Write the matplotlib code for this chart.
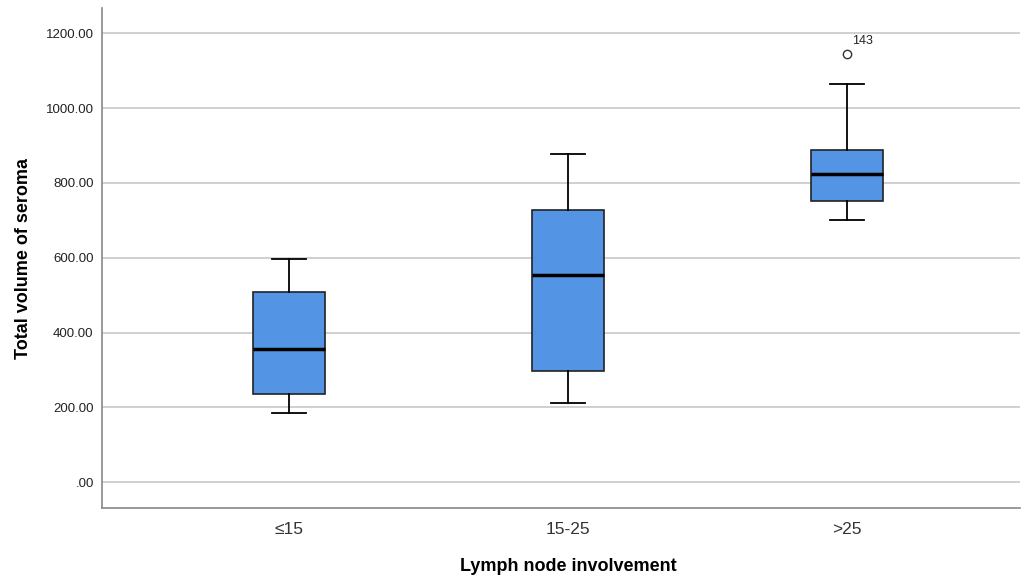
import matplotlib.pyplot as plt

# groups and box statistics
groups = ['≤15', '15-25', '>25']
whislo = [184, 211, 701]
q1 = [237, 296, 752]
med = [355, 555, 824]
q3 = [509, 728, 888]
whishi = [597, 877, 1064]
fliers = [[], [], [1144]]
flier_ids = [[], [], ['143']]

plt.rcParams['font.family'] = ['Liberation Sans', 'DejaVu Sans']

fig = plt.figure(figsize=(10.24, 5.78), dpi=100)
ax = fig.add_axes([0.0996, 0.121, 0.8964, 0.865])

stats = []
for i in range(len(groups)):
    stats.append({'whislo': whislo[i], 'q1': q1[i], 'med': med[i], 'q3': q3[i],
                  'whishi': whishi[i], 'fliers': fliers[i], 'label': groups[i]})

ax.bxp(stats, positions=[1, 2, 3], widths=0.257, patch_artist=True, showfliers=True,
       boxprops=dict(facecolor='#5394E4', edgecolor='#222222', linewidth=1.2),
       medianprops=dict(color='black', linewidth=2.5),
       whiskerprops=dict(color='black', linewidth=1.3),
       capprops=dict(color='black', linewidth=1.3),
       capwidths=0.123,
       flierprops=dict(marker='o', markerfacecolor='white', markeredgecolor='#333333',
                       markersize=6, markeredgewidth=1))

for i in range(len(groups)):
    for v, lab in zip(fliers[i], flier_ids[i]):
        ax.annotate(lab, (i + 1, v), xytext=(4, 7), textcoords='offset points',
                    fontsize=9, color='#222222')

ax.set_xlim(0.33, 3.62)
ax.set_ylim(-69, 1267)
ax.set_yticks([0, 200, 400, 600, 800, 1000, 1200])
ax.set_yticklabels(['.00', '200.00', '400.00', '600.00', '800.00', '1000.00', '1200.00'],
                   fontsize=9.5, color='#222222')
ax.set_xticks([1, 2, 3])
ax.set_xticklabels(groups, fontsize=12.5, color='#333333')
ax.tick_params(axis='x', length=0, pad=10)
ax.tick_params(axis='y', length=0, pad=6)

ax.yaxis.grid(True, color='#c8c8c8', linewidth=1.2)
ax.set_axisbelow(True)
for s in ['top', 'right']:
    ax.spines[s].set_visible(False)
for s in ['left', 'bottom']:
    ax.spines[s].set_color('#888888')
    ax.spines[s].set_linewidth(1.2)

ax.set_xlabel('Lymph node involvement', fontsize=13, fontweight='bold')
ax.xaxis.set_label_coords(0.508, -0.099)
ax.set_ylabel('Total volume of seroma', fontsize=13, fontweight='bold')
ax.yaxis.set_label_coords(-0.076, 0.5)

fig.savefig('out.png', dpi=100)
